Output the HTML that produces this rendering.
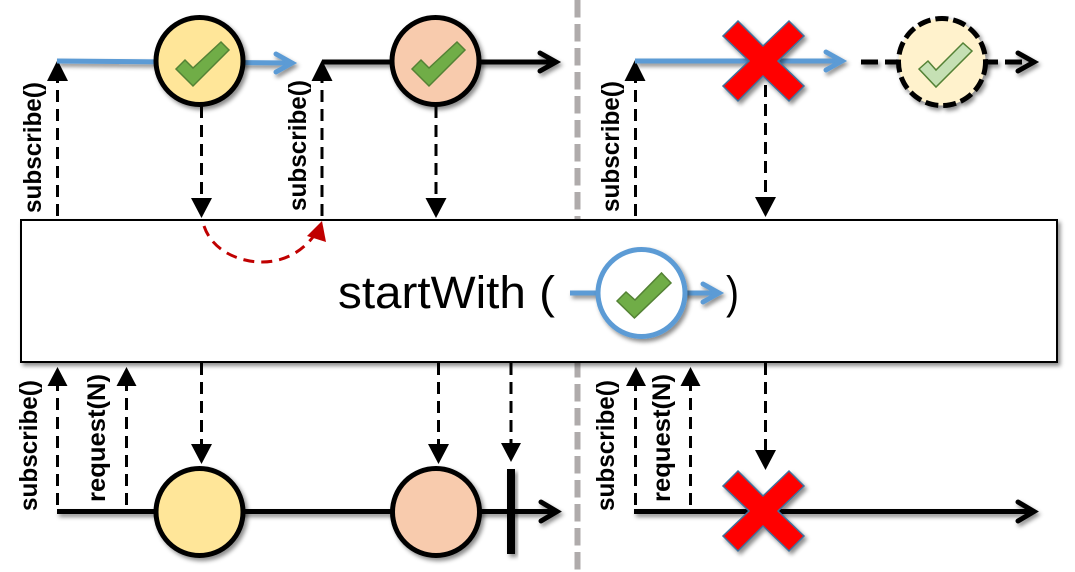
<!DOCTYPE html>
<html><head><meta charset="utf-8"><style>
html,body{margin:0;padding:0;background:#fff;width:1075px;height:572px;overflow:hidden}
svg{display:block}
text{font-family:"Liberation Sans",sans-serif;fill:#000}
.l{font-weight:bold;font-size:25px}
</style></head><body>
<svg width="1075" height="572" viewBox="0 0 1075 572" xmlns="http://www.w3.org/2000/svg">
<defs>
<filter id="s" x="-30%" y="-30%" width="170%" height="170%"><feDropShadow dx="2.5" dy="3" stdDeviation="2" flood-color="#000" flood-opacity=".45"/></filter>
<filter id="sl" filterUnits="userSpaceOnUse" x="0" y="0" width="1075" height="572"><feDropShadow dx="2" dy="3" stdDeviation="2" flood-color="#000" flood-opacity=".45"/></filter>
<polygon id="ck" points="-24,8 -15,-1 -7,7 21,-19 29,-11 -7,25" fill="#70AD47" stroke="#548235" stroke-width="1.5"/>
<polygon id="x" points="-25,-40 0,-15 26,-40 41,-25 15,0 41,25 26,40 0,15 -25,40 -40,25 -14,0 -40,-25" fill="#f00" stroke="#41719C" stroke-width="1.5"/>
</defs>

<!-- divider -->
<line x1="577.5" y1="0" x2="577.5" y2="572" stroke="#AFABAB" stroke-width="6" stroke-dasharray="17.5 6.5"/>

<!-- vertical dashed lines -->
<g stroke="#000" stroke-width="3" stroke-dasharray="12 7" fill="none">
<path d="M57.5 216V80M322 216V80M635.5 216V80"/>
<path d="M201.5 106V200M436 106V200M765.5 85V199"/>
<path d="M201.5 363V446M438.5 363V446M511 363V445M765.5 363V452"/>
<path d="M57.5 505V385M126.5 505V385M635.5 505V385M690.5 505V385"/>
</g>
<g fill="#000">
<path d="M57.5 60l10.500 21H47zM322 60l10.500 21h-21zM635 60l10.500 21h-21z"/>
<path d="M201.500 218l-10.500-20h21zM436 218l-10.500-20h21zM765.500 217l-10.500-20h21z"/>
<path d="M57.500 367l10 19H47.500zM126.500 367l10 19h-20zM636 367l10 19h-20zM690.500 367l10 19h-20z"/>
<path d="M201.500 464l-10.500-20h21zM438.500 464l-10.500-20h21zM511 462l-10-19h20zM765.500 470l-10.500-20h21z"/>
</g>

<!-- top left timelines -->
<g filter="url(#sl)" fill="none">
<path d="M57 61L291 63" stroke="#5B9BD5" stroke-width="5"/>
<path d="M276 54L292 63L276 72" stroke="#5B9BD5" stroke-width="5" stroke-linecap="round"/>
</g>
<g filter="url(#s)"><circle cx="199.500" cy="61" r="43.500" fill="#FFE699" stroke="#000" stroke-width="5"/></g>
<use href="#ck" x="200" y="61"/>

<g filter="url(#sl)" fill="none">
<path d="M322 62H554" stroke="#000" stroke-width="5"/>
<path d="M540 53L556 62L540 71" stroke="#000" stroke-width="5" stroke-linecap="round"/>
</g>
<g filter="url(#s)"><circle cx="435.500" cy="61" r="43.500" fill="#F8CBAD" stroke="#000" stroke-width="5"/></g>
<use href="#ck" x="436" y="61"/>

<!-- top right timeline -->
<g filter="url(#sl)" fill="none">
<path d="M635 61H840" stroke="#5B9BD5" stroke-width="5"/>
<path d="M826 52L842 61L826 70" stroke="#5B9BD5" stroke-width="5" stroke-linecap="round"/>
<path d="M861 62H1032" stroke="#000" stroke-width="5" stroke-dasharray="17 7"/>
<path d="M1018 53L1034 62L1018 71" stroke="#000" stroke-width="5" stroke-linecap="round"/>
</g>
<g filter="url(#s)"><use href="#x" x="763" y="61"/></g>
<g filter="url(#s)"><circle cx="942" cy="62" r="43.500" fill="#FFF2CC" stroke="#000" stroke-width="5" stroke-dasharray="13 5"/></g>
<polygon points="919,69 928,61 936,70 963,43 972,51 936,87" fill="#C5E0B4" stroke="#548235" stroke-width="1.500"/>

<!-- center box -->
<rect x="21" y="220" width="1036" height="142" fill="#fff" stroke="#000" stroke-width="2" filter="url(#s)"/>

<!-- red arc -->
<path d="M204 226C212 250 238 262 262 262C285 262 302 251 313 237" fill="none" stroke="#C00000" stroke-width="3" stroke-dasharray="11 7"/>
<path d="M322 221L326 242L307 236z" fill="#C00000"/>

<!-- box contents -->
<text x="338" y="308" font-size="45" textLength="217" lengthAdjust="spacingAndGlyphs">startWith (</text>
<g filter="url(#sl)" fill="none">
<path d="M570 293H717" stroke="#5B9BD5" stroke-width="5"/>
<path d="M703 284L719 293L703 302" stroke="#5B9BD5" stroke-width="5" stroke-linecap="round"/>
</g>
<g filter="url(#s)"><circle cx="641.500" cy="293" r="43.500" fill="#fff" stroke="#5B9BD5" stroke-width="5"/></g>
<polygon points="617,301 626,292 635,300 661.500,273 671,283 634.400,318" fill="#70AD47" stroke="#548235" stroke-width="1.500"/>
<text x="726" y="308" font-size="45" textLength="13" lengthAdjust="spacingAndGlyphs">)</text>

<!-- bottom left timeline -->
<g filter="url(#sl)" fill="none">
<path d="M57 511.500H554" stroke="#000" stroke-width="5"/>
<path d="M541 502L557 511.500L541 521" stroke="#000" stroke-width="5" stroke-linecap="round"/>
</g>
<g filter="url(#s)"><circle cx="199.500" cy="512" r="43.500" fill="#FFE699" stroke="#000" stroke-width="5"/></g>
<g filter="url(#s)"><circle cx="436" cy="512" r="43.500" fill="#F8CBAD" stroke="#000" stroke-width="5"/></g>
<rect x="507" y="469" width="8" height="85" fill="#000" filter="url(#s)"/>

<!-- bottom right timeline -->
<g filter="url(#sl)" fill="none">
<path d="M634 511.500H1032" stroke="#000" stroke-width="5"/>
<path d="M1018 502L1034 511.500L1018 521" stroke="#000" stroke-width="5" stroke-linecap="round"/>
</g>
<g filter="url(#s)"><use href="#x" x="763" y="511"/></g>

<!-- labels -->
<text class="l" transform="translate(41 213) rotate(-90)" textLength="131" lengthAdjust="spacingAndGlyphs">subscribe()</text>
<text class="l" transform="translate(306 211) rotate(-90)" textLength="131" lengthAdjust="spacingAndGlyphs">subscribe()</text>
<text class="l" transform="translate(619 212) rotate(-90)" textLength="131" lengthAdjust="spacingAndGlyphs">subscribe()</text>
<text class="l" transform="translate(37 511) rotate(-90)" textLength="131" lengthAdjust="spacingAndGlyphs">subscribe()</text>
<text class="l" transform="translate(105 502) rotate(-90)" textLength="128" lengthAdjust="spacingAndGlyphs">request(N)</text>
<text class="l" transform="translate(614 511) rotate(-90)" textLength="131" lengthAdjust="spacingAndGlyphs">subscribe()</text>
<text class="l" transform="translate(670 502) rotate(-90)" textLength="128" lengthAdjust="spacingAndGlyphs">request(N)</text>
</svg>
</body></html>
